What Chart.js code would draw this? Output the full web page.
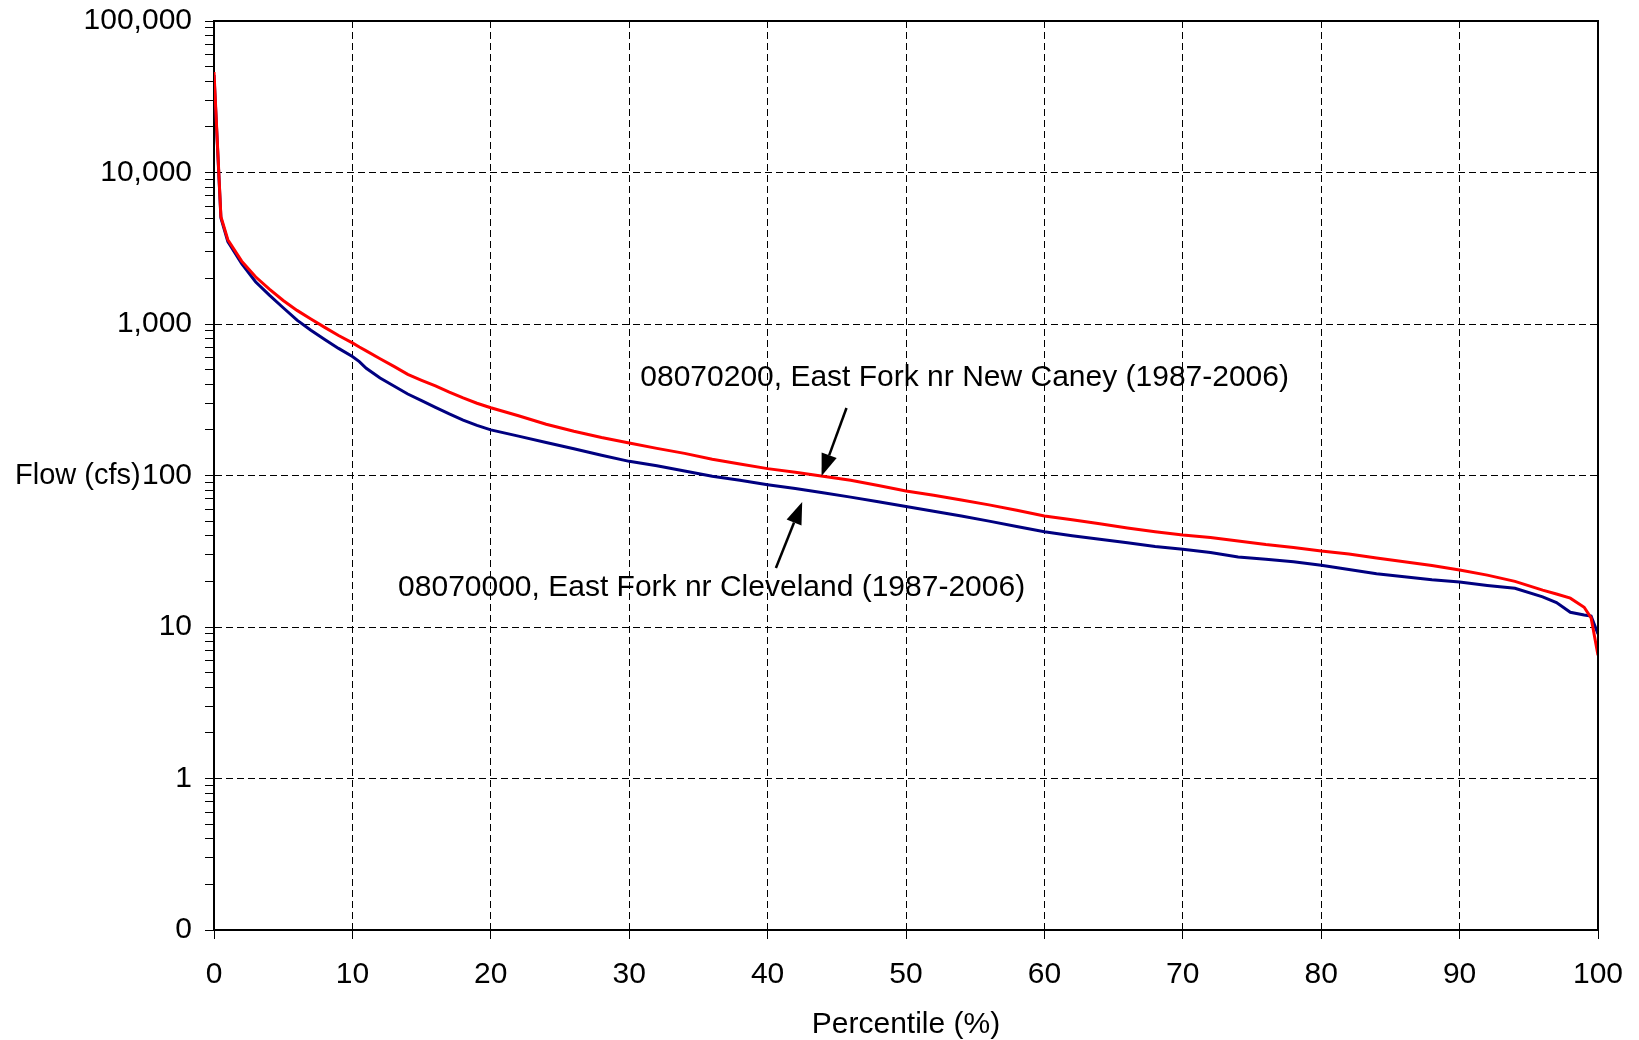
<!DOCTYPE html>
<html>
<head>
<meta charset="utf-8">
<script src="https://cdn.jsdelivr.net/npm/chart.js@4"></script>
<style>
  html, body { margin: 0; padding: 0; background: #fff; }
  #wrap { width: 1639px; height: 1040px; }
</style>
</head>
<body>
<div id="wrap"><canvas id="grafica" width="1639" height="1040"></canvas></div>
<script>
// percentil de excedencia (%)
const percentiles = [0, 0.5, 1, 2, 3, 4, 5, 6, 7, 8, 9, 10, 10.5, 11, 12, 13, 14, 15, 16, 17, 18, 19, 20,
  22, 24, 26, 28, 30, 32, 34, 36, 38, 40, 42, 44, 46, 48, 50, 52, 54, 56, 58, 60, 62, 64, 66, 68, 70,
  72, 74, 76, 78, 80, 82, 84, 86, 88, 90, 92, 94, 96, 97, 98, 99, 99.5, 100];

// 08070200, East Fork nr New Caney
const flowNewCaney = [46000, 5100, 3600, 2600, 2050, 1700, 1430, 1230, 1080, 950, 840, 750, 705, 665, 590, 525, 465, 425, 390, 355, 325, 300, 280,
  248, 218, 196, 178, 164, 151, 140, 128, 119, 111, 105, 99, 93, 86, 79, 74, 69, 64, 59, 54, 51, 48, 45, 42.5, 40.5,
  39, 37, 35, 33.5, 31.7, 30.3, 28.5, 27, 25.5, 23.8, 22, 20, 17.5, 16.5, 15.5, 13.5, 11.5, 6.5];

// 08070000, East Fork nr Cleveland
const flowCleveland = [44000, 5000, 3500, 2500, 1900, 1550, 1280, 1060, 910, 790, 690, 610, 565, 510, 440, 390, 345, 312, 282, 255, 232, 214, 200,
  182, 165, 150, 136, 124, 116, 107, 99, 93, 87, 82, 77, 72, 67, 62.5, 58, 54, 50, 46, 42.5, 40, 38, 36, 34, 32.6,
  31, 29, 28, 27, 25.6, 24, 22.5, 21.5, 20.5, 19.8, 18.8, 18, 15.8, 14.5, 12.5, 12, 11.8, 9];

const xTicks = [0, 10, 20, 30, 40, 50, 60, 70, 80, 90, 100];
const yDecades = [0.1, 1, 10, 100, 1000, 10000, 100000];
const yLabels = ['0', '1', '10', '100', '1,000', '10,000', '100,000'];

const FUENTE = "'Liberation Sans', Arial, sans-serif";

function esDecada(v) {
  const l = Math.log10(v);
  return Math.abs(l - Math.round(l)) < 1e-9;
}

const notas = [
  { texto: '08070200, East Fork nr New Caney (1987-2006)', en: [30.8, 440], desde: [45.7, 279], hasta: [43.9, 99.3] },
  { texto: '08070000, East Fork nr Cleveland (1987-2006)', en: [13.3, 18.1], desde: [40.6, 24.5], hasta: [42.5, 66.8] }
];

const extras = {
  id: 'extras',
  afterDatasetsDraw(chart) {
    const ctx = chart.ctx;
    const xs = chart.scales.x, ys = chart.scales.y;
    ctx.save();
    ctx.fillStyle = '#000';
    ctx.strokeStyle = '#000';
    ctx.font = '30px ' + FUENTE;
    ctx.textBaseline = 'middle';
    ctx.textAlign = 'left';
    notas.forEach(n => {
      ctx.fillText(n.texto, xs.getPixelForValue(n.en[0]), ys.getPixelForValue(n.en[1]));
      const x1 = xs.getPixelForValue(n.desde[0]), y1 = ys.getPixelForValue(n.desde[1]);
      const x2 = xs.getPixelForValue(n.hasta[0]), y2 = ys.getPixelForValue(n.hasta[1]);
      const ang = Math.atan2(y2 - y1, x2 - x1);
      const largo = 22, ancho = 8;
      const bx = x2 - largo * Math.cos(ang), by = y2 - largo * Math.sin(ang);
      ctx.lineWidth = 2.5;
      ctx.beginPath();
      ctx.moveTo(x1, y1);
      ctx.lineTo(bx, by);
      ctx.stroke();
      ctx.beginPath();
      ctx.moveTo(x2, y2);
      ctx.lineTo(bx + ancho * Math.sin(ang), by - ancho * Math.cos(ang));
      ctx.lineTo(bx - ancho * Math.sin(ang), by + ancho * Math.cos(ang));
      ctx.closePath();
      ctx.fill();
    });
    ctx.restore();
  },
  afterDraw(chart) {
    const ctx = chart.ctx;
    const a = chart.chartArea;
    ctx.save();
    ctx.strokeStyle = '#000';
    ctx.lineWidth = 2;
    ctx.beginPath();
    ctx.moveTo(a.left, a.top);
    ctx.lineTo(a.right, a.top);
    ctx.lineTo(a.right, a.bottom);
    ctx.stroke();
    // titulo del eje y, horizontal
    ctx.fillStyle = '#000';
    ctx.font = '29px ' + FUENTE;
    ctx.textBaseline = 'middle';
    ctx.textAlign = 'left';
    ctx.fillText('Flow (cfs)', 15, (a.top + a.bottom) / 2);
    ctx.restore();
  }
};

function generarGrafica() {
  const ctx = document.getElementById('grafica').getContext('2d');
  new Chart(ctx, {
    type: 'line',
    data: {
      datasets: [{
        label: '08070200, East Fork nr New Caney (1987-2006)',
        data: percentiles.map((p, i) => ({ x: p, y: flowNewCaney[i] })),
        borderColor: '#ff0000',
        borderWidth: 3,
        pointRadius: 0,
        tension: 0
      }, {
        label: '08070000, East Fork nr Cleveland (1987-2006)',
        data: percentiles.map((p, i) => ({ x: p, y: flowCleveland[i] })),
        borderColor: '#000080',
        borderWidth: 3,
        pointRadius: 0,
        tension: 0
      }]
    },
    options: {
      responsive: false,
      animation: false,
      layout: { padding: { top: 21, right: 41, left: 0, bottom: 0 } },
      plugins: {
        legend: { display: false },
        tooltip: { enabled: false }
      },
      scales: {
        x: {
          type: 'linear',
          min: 0,
          max: 100,
          afterBuildTicks: scale => { scale.ticks = xTicks.map(v => ({ value: v })); },
          afterFit: scale => {
            scale.height = 110;
            scale.paddingLeft = 0;
            scale.paddingRight = 0;
          },
          ticks: {
            color: '#000',
            font: { size: 30, family: FUENTE },
            padding: 18,
            maxRotation: 0,
            autoSkip: false
          },
          grid: {
            color: '#000',
            lineWidth: 1,
            tickLength: 9,
            tickColor: '#000'
          },
          border: { color: '#000', width: 2, dash: [7, 4] },
          title: {
            display: true,
            text: 'Percentile (%)',
            color: '#000',
            font: { size: 30, family: FUENTE },
            padding: { top: 0, bottom: -3 }
          }
        },
        y: {
          type: 'logarithmic',
          min: 0.1,
          max: 100000,
          afterBuildTicks: scale => {
            const t = [];
            for (let i = 0; i < yDecades.length - 1; i++) {
              for (let d = 1; d <= 9; d++) t.push({ value: +(yDecades[i] * d).toPrecision(6) });
            }
            t.push({ value: yDecades[yDecades.length - 1] });
            scale.ticks = t;
          },
          afterFit: scale => {
            scale.width = 214;
            scale.paddingTop = 0;
            scale.paddingBottom = 0;
          },
          ticks: {
            color: '#000',
            font: { size: 30, family: FUENTE },
            padding: 13,
            autoSkip: false,
            callback: function (value) {
              const i = yDecades.findIndex(d => Math.abs(d - value) < d * 1e-6);
              return i >= 0 ? yLabels[i] : '';
            }
          },
          grid: {
            color: c => (c.tick && esDecada(c.tick.value)) ? '#000' : 'rgba(0,0,0,0)',
            lineWidth: 1,
            tickLength: 9,
            tickColor: '#000'
          },
          border: { color: '#000', width: 2, dash: [7, 4] }
        }
      }
    },
    plugins: [extras]
  });
}

generarGrafica();
</script>
</body>
</html>
